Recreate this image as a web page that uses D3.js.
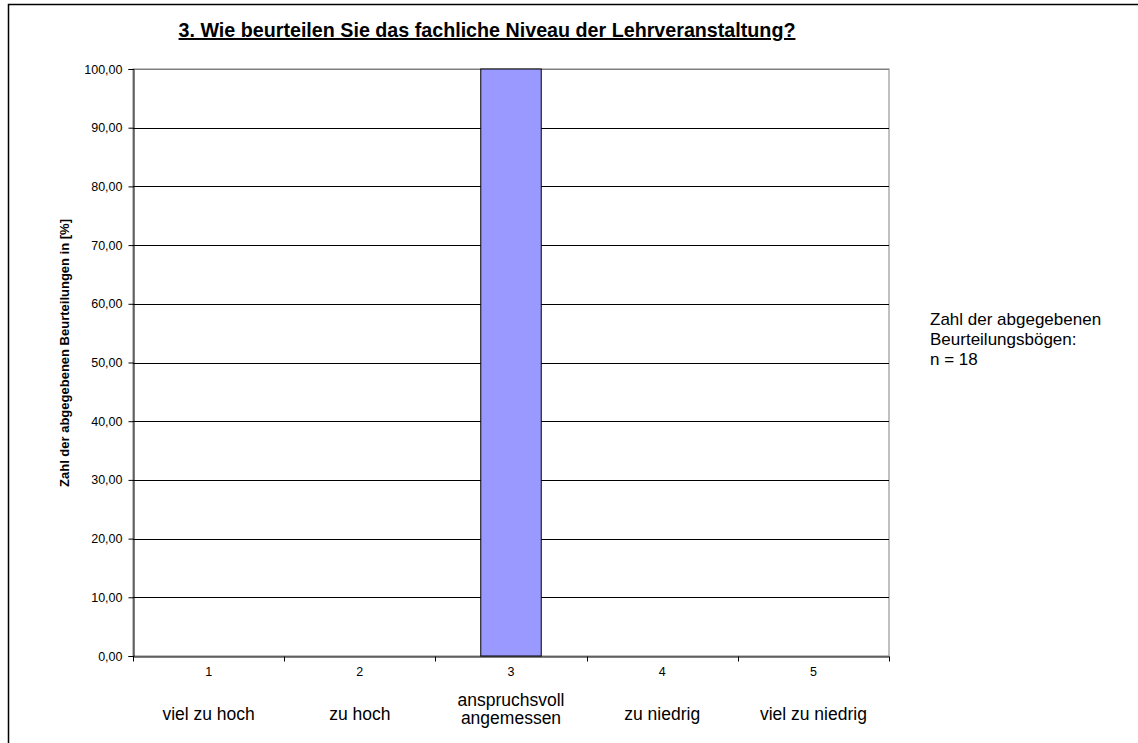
<!DOCTYPE html>
<html><head><meta charset="utf-8">
<script src="https://cdn.jsdelivr.net/npm/d3@7"></script>
<style>
body{margin:0;background:#fff;}
svg{display:block;font-family:"Liberation Sans",Arial,sans-serif;}
</style></head>
<body>
<svg id="c" width="1138" height="743"></svg>
<script>
const categories = ["1","2","3","4","5"];
const categoryLabels = [["viel zu hoch"],["zu hoch"],["anspruchsvoll","angemessen"],["zu niedrig"],["viel zu niedrig"]];
const values = [0, 0, 100, 0, 0];
const yTicks = [0,10,20,30,40,50,60,70,80,90,100];
const title = "3. Wie beurteilen Sie das fachliche Niveau der Lehrveranstaltung?";
const yTitle = "Zahl der abgegebenen Beurteilungen in [%]";
const note = ["Zahl der abgegebenen","Beurteilungsbögen:","n = 18"];

const svg = d3.select("#c");
const m = {l:133, t:69, r:889, b:656};

// outer frame
svg.append("rect").attr("x",8.5).attr("y",4.5).attr("width",1140).attr("height",760)
  .attr("fill","none").attr("stroke","#000").attr("stroke-width",1.5);

const x = d3.scaleBand().domain(categories).range([m.l,m.r]).paddingInner(0).paddingOuter(0);
const y = d3.scaleLinear().domain([0,100]).range([m.b,m.t]);

// plot border (gray)
svg.append("rect").attr("x",m.l).attr("y",m.t).attr("width",m.r-m.l).attr("height",m.b-m.t)
  .attr("fill","#fff").attr("stroke","#808080").attr("stroke-width",1);

// gridlines
svg.append("g").selectAll("line").data(yTicks.filter(d=>d>0)).join("line")
  .attr("x1",m.l).attr("x2",m.r)
  .attr("y1",d=>Math.round(y(d))+0.5).attr("y2",d=>Math.round(y(d))+0.5)
  .attr("stroke",d=>d===100?"#808080":"#000").attr("stroke-width",1);

// bars
const bw = x.bandwidth()*0.4;
svg.append("g").selectAll("rect").data(values.map((v,i)=>({c:categories[i],v}))).join("rect")
  .filter(d=>d.v>0)
  .attr("x",d=>x(d.c)+x.bandwidth()/2-bw/2)
  .attr("y",d=>y(d.v))
  .attr("width",bw)
  .attr("height",d=>y(0)-y(d.v))
  .attr("fill","#9999FF").attr("stroke","#000").attr("stroke-width",1);

// y axis
const yAxis = d3.axisLeft(y).tickValues(yTicks).tickSize(5).tickPadding(6)
  .tickFormat(d=>d3.format(".2f")(d).replace(".",","));
const gy = svg.append("g").attr("transform",`translate(${m.l+0.5},0)`).call(yAxis);
gy.select(".domain").attr("stroke","#000");
gy.selectAll(".tick line").attr("stroke","#000");
gy.selectAll("text").attr("font-size",12.5).attr("fill","#000").attr("font-family","Liberation Sans, Arial, sans-serif");

// x axis
const xAxis = d3.axisBottom(x).tickSize(0).tickPadding(11);
const gx = svg.append("g").attr("transform",`translate(0,${m.b+0.5})`).call(xAxis);
gx.select(".domain").attr("stroke","#000");
gx.selectAll("text").attr("font-size",12.5).attr("fill","#000").attr("font-family","Liberation Sans, Arial, sans-serif");
// tick marks at band boundaries
const bounds = categories.map(c=>x(c)).concat([m.r]);
gx.append("g").selectAll("line").data(bounds).join("line")
  .attr("x1",d=>Math.round(d)+0.5).attr("x2",d=>Math.round(d)+0.5)
  .attr("y1",0).attr("y2",5).attr("stroke","#000");

// category labels
categories.forEach((c,i)=>{
  const lines = categoryLabels[i];
  const cx = x(c)+x.bandwidth()/2;
  const t = svg.append("text").attr("text-anchor","middle").attr("font-size",17.5).attr("fill","#000");
  const base = lines.length===1 ? 720 : 706;
  lines.forEach((s,j)=>t.append("tspan").attr("x",cx).attr("y",base+j*18).text(s));
});

// title
svg.append("text").attr("x",487).attr("y",37).attr("text-anchor","middle")
  .attr("font-size",19.7).attr("font-weight","bold").attr("text-decoration","underline")
  .attr("fill","#000").text(title);

// y title
svg.append("text").attr("transform",`translate(69,353) rotate(-90)`)
  .attr("text-anchor","middle").attr("font-size",13).attr("font-weight","bold").attr("fill","#000")
  .text(yTitle);

// note
const nt = svg.append("text").attr("font-size",17).attr("fill","#000");
note.forEach((s,j)=>nt.append("tspan").attr("x",930).attr("y",325+j*20).text(s));
</script>
</body></html>
